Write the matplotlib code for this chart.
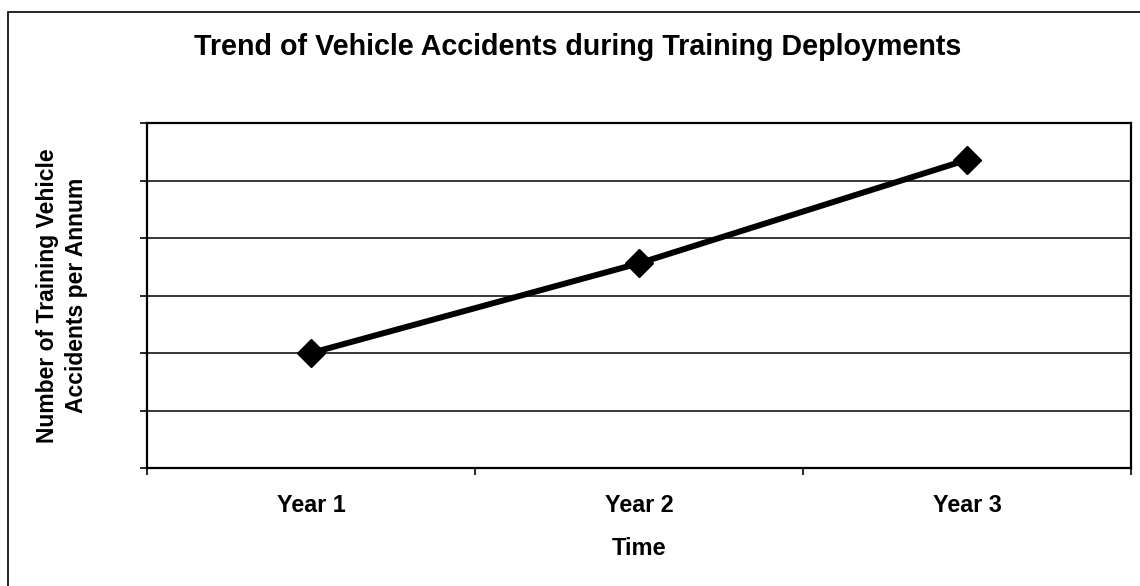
import matplotlib.pyplot as plt
from matplotlib.patches import Rectangle

years = ['Year 1', 'Year 2', 'Year 3']
accidents = [2.0, 3.56, 5.36]
y_ticks = [0, 1, 2, 3, 4, 5, 6]

plt.rcParams['font.family'] = ['Liberation Sans', 'DejaVu Sans']

fig = plt.figure(figsize=(11.4, 5.86), dpi=100)
ax = fig.add_axes([147 / 1140, 1 - 468 / 586, (1131 - 147) / 1140, (468 - 123) / 586])

x = list(range(len(years)))
ax.plot(x, accidents, color='black', lw=4.3, marker='D', markersize=14.5,
        zorder=3, clip_on=False)

ax.set_xlim(-0.5, len(years) - 0.5)
ax.set_ylim(y_ticks[0], y_ticks[-1])
ax.set_yticks(y_ticks)
ax.set_yticklabels([])
ax.yaxis.grid(True, color='black', lw=1.1)
ax.set_axisbelow(True)

# category boundaries get tick marks, labels sit in the middle
ax.set_xticks([i - 0.5 for i in range(len(years) + 1)])
ax.set_xticklabels([])
ax.set_xticks(x, minor=True)
ax.set_xticklabels(years, minor=True, fontsize=16.8, fontweight='bold')
ax.tick_params(axis='x', which='minor', length=0, pad=19)
ax.tick_params(axis='both', which='major', direction='out', length=5,
               width=1.2, color='black')

for s in ax.spines.values():
    s.set_linewidth(1.6)
    s.set_color('black')

ax.set_xlabel('Time', fontsize=17, fontweight='bold', labelpad=14)
ax.set_ylabel('Number of Training Vehicle\nAccidents per Annum', fontsize=16.5,
              fontweight='bold', labelpad=34, linespacing=1.35)

fig.text(578 / 1140, 1 - 55 / 586, 'Trend of Vehicle Accidents during Training Deployments',
         ha='center', va='baseline', fontsize=20.6, fontweight='bold')

# outer chart frame (left and top edges visible in the original)
fig.patches.append(Rectangle((8 / 1140, -0.1), 1.2, 1 - 12 / 586 + 0.1,
                             transform=fig.transFigure, fill=False,
                             edgecolor='black', lw=1.2))

fig.savefig('out.png', dpi=100)
